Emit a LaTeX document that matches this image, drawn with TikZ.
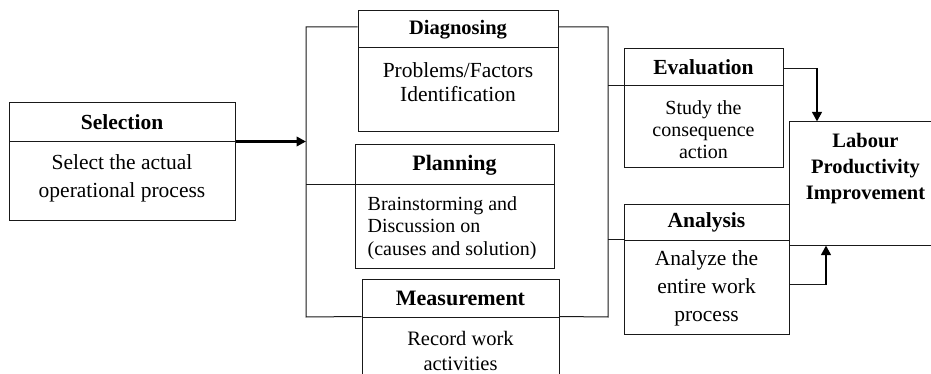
\documentclass[tikz,border=0pt]{standalone}
\usepackage{fontspec}
\setmainfont{Liberation Serif}
\usetikzlibrary{arrows.meta}
\newcommand\myfs[2]{\fontsize{#1}{#2}\selectfont}
\begin{document}
\begin{tikzpicture}[x=1pt,y=-1pt,
 box/.style={draw=black!90,line width=1pt,inner sep=0pt},
 hd/.style={box,font=\bfseries\myfs{21.5}{26}},
 txt/.style={align=center,inner sep=0pt},
 conn/.style={draw=black!90,line width=1pt},
 arr/.style={draw=black,line width=2.4pt,-{Triangle[length=9.5pt,width=9.5pt]}}]
\useasboundingbox (0,0) rectangle (931,374);
\clip (0,0) rectangle (931,374);

% Selection
\node[hd,minimum width=226pt,minimum height=39pt] (selH) at (122,122.5) {Selection};
\node[box,minimum width=226pt,minimum height=78pt] (selB) at (122,181) {};
\node[txt,font=\myfs{21.5}{28}] (selT) at (122,178.5) {Select the actual\\operational process};

% Diagnosing
\node[hd,font=\bfseries\myfs{20.5}{24},minimum width=200pt,minimum height=37pt] (diagH) at (458,29.5) {Diagnosing};
\node[box,minimum width=200pt,minimum height=84pt] (diagB) at (458,90) {};
\node[txt,font=\myfs{21.5}{24.5}] (diagT) at (458,82) {Problems/Factors\\Identification};

% Planning
\node[hd,font=\bfseries\myfs{22}{26},minimum width=199pt,minimum height=40pt] (planH) at (454.5,165) {Planning};
\node[box,minimum width=199pt,minimum height=83pt] (planB) at (454.5,226.5) {};
\node[txt,align=left,anchor=west,font=\myfs{20}{22.5}] (planT) at (367.5,228) {Brainstorming and\\Discussion on\\(causes and solution)};

% Measurement
\node[hd,font=\bfseries\myfs{22}{26},minimum width=197pt,minimum height=38pt] (measH) at (460.5,298) {Measurement};
\node[box,minimum width=197pt,minimum height=90pt] (measB) at (460.5,362) {};
\node[txt,font=\myfs{20.5}{25}] (measT) at (460.5,351) {Record work\\activities};

% Evaluation
\node[hd,minimum width=159pt,minimum height=37pt] (evalH) at (703.5,67.5) {Evaluation};
\node[box,minimum width=159pt,minimum height=82pt] (evalB) at (703.5,127) {};
\node[txt,font=\myfs{20}{22}] (evalT) at (703.5,130) {Study the\\consequence\\action};

% Analysis
\node[hd,minimum width=165pt,minimum height=36pt] (anaH) at (706.5,222) {Analysis};
\node[box,minimum width=165pt,minimum height=94pt] (anaB) at (706.5,287) {};
\node[txt,font=\myfs{21.5}{28}] (anaT) at (706.5,288) {Analyze the\\entire work\\process};

% Labour
\node[box,minimum width=153pt,minimum height=123pt] (lab) at (865.5,183.5) {};
\node[txt,font=\bfseries\myfs{20.5}{26}] (labT) at (865.5,169) {Labour\\Productivity\\Improvement};

% brackets
\coordinate (lb) at (306,317);
\coordinate (rb) at (608,317);
\draw[conn] ([yshift=2.5pt]diagH.west) -| (lb) -- (measB.north west);
\draw[conn] (planB.north west) -- (planB.north west -| lb);
\draw[conn] ([yshift=2.5pt]diagH.east) -| (rb) -- (measB.north east);
\draw[conn] (evalB.north west) -- (evalB.north west -| rb);
\draw[conn] (anaB.north west) -- (anaB.north west -| rb);

% arrows
\draw[arr] (selB.north east) -- (selB.north east -| lb);

\coordinate (e0) at ([yshift=-1.5pt]evalH.east);
\coordinate (ea) at ([xshift=-48.5pt]lab.north);
\draw[conn] (e0) -- (e0 -| ea);
\draw[arr] ([yshift=0.5pt]e0 -| ea) -- (ea);

\coordinate (a0) at ([yshift=3pt]anaB.east);
\coordinate (aa) at ([xshift=-39.5pt]lab.south);
\draw[conn] (a0) -- (a0 -| aa);
\draw[arr] ([yshift=-0.5pt]a0 -| aa) -- (aa);
\end{tikzpicture}
\end{document}
